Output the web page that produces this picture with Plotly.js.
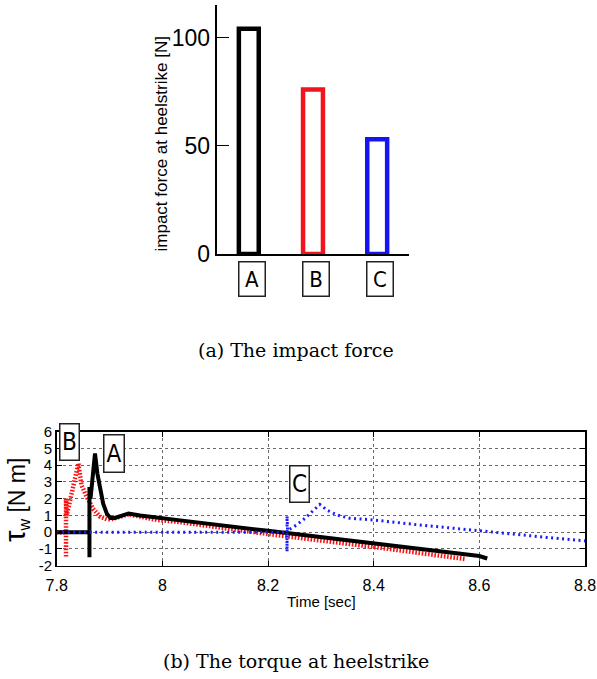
<!DOCTYPE html>
<html>
<head>
<meta charset="utf-8">
<script src="https://cdn.plot.ly/plotly-3.0.1.min.js"></script>
<style>
  html, body { margin: 0; padding: 0; background: #fff; }
  #chart { width: 597px; height: 679px; }
</style>
</head>
<body>
<div id="chart"></div>
<script>
// (a) impact force at heelstrike for the three controllers
const categories = ['A', 'B', 'C'];
const impactForce = [104, 76, 53];
const barColors = ['#000000', '#f0141e', '#1414f5'];
const forceTicks = [0, 50, 100];

// (b) wrist torque around heelstrike, controller A (solid black)
const timeA = [7.8, 7.862, 7.862, 7.862, 7.864, 7.866, 7.8725, 7.877, 7.882, 7.888, 7.895, 7.902, 7.91, 7.92, 7.936, 7.958, 7.99, 8.03, 8.2, 8.4, 8.6, 8.615];
const torqueA = [0, 0, -1.5, 2.7, 2.0, 2.6, 4.7, 3.5, 2.7, 1.7, 1.1, 0.85, 0.85, 0.97, 1.12, 1.0, 0.85, 0.72, 0.08, -0.67, -1.42, -1.57];

// controller B (red dotted)
const timeB = [7.8, 7.8176, 7.8176, 7.8176, 7.819, 7.841, 7.847, 7.857, 7.869, 7.882, 7.895, 7.903, 7.92, 7.936, 7.958, 7.99, 8.027, 8.2, 8.4, 8.573];
const torqueB = [0, 0, -1.5, 2.0, 1.0, 4.1, 2.8, 2.1, 1.4, 0.93, 0.77, 0.77, 0.93, 1.07, 0.93, 0.73, 0.63, -0.11, -0.88, -1.6];

// controller C (blue dotted)
const timeC = [7.8, 8.236, 8.236, 8.236, 8.237, 8.254, 8.27, 8.283, 8.298, 8.311, 8.33, 8.355, 8.4, 8.475, 8.538, 8.601, 8.664, 8.727, 8.8];
const torqueC = [0, 0, -1.16, 0.97, 0.1, 0.43, 0.83, 1.22, 1.66, 1.33, 1.03, 0.83, 0.73, 0.47, 0.29, 0.09, -0.11, -0.31, -0.52];

const torqueTickVals = [-2, -1, 0, 1, 2, 3, 4, 5, 6];
const torqueTickText = ['-2', '-1', '0', '1', '2', '3', '4', '5', '6'];
const timeTickVals = [7.8, 8, 8.2, 8.4, 8.6, 8.8];
const timeTickText = ['7.8', '8', '8.2', '8.4', '8.6', '8.8'];

const sans = 'Liberation Sans, Arial, Helvetica, sans-serif';
const narrow = 'Liberation Sans Narrow, DejaVu Sans Condensed, Arial Narrow, Liberation Sans, sans-serif';
const serif = 'DejaVu Serif, Liberation Serif, serif';

const traces = [
  {
    type: 'bar', x: categories, y: impactForce, xaxis: 'x', yaxis: 'y',
    width: 0.31,
    marker: { color: '#ffffff', line: { color: barColors, width: 4.5 } },
    hoverinfo: 'x+y', showlegend: false
  },
  {
    type: 'scatter', mode: 'lines', x: timeB, y: torqueB, xaxis: 'x2', yaxis: 'y2',
    line: { color: '#ff1010', width: 4.5, dash: '1.6px,1.6px' }, showlegend: false
  },
  {
    type: 'scatter', mode: 'lines', x: timeA, y: torqueA, xaxis: 'x2', yaxis: 'y2',
    line: { color: '#000000', width: 4 }, showlegend: false
  },
  {
    type: 'scatter', mode: 'lines', x: timeC, y: torqueC, xaxis: 'x2', yaxis: 'y2',
    line: { color: '#1a1aff', width: 3, dash: '2px,3.5px' }, showlegend: false
  }
];

function boxLabel(text, x, y, xref, yref, extra) {
  return Object.assign({
    text: text, x: x, y: y, xref: xref, yref: yref,
    showarrow: false, xanchor: 'center', yanchor: 'middle',
    font: { family: narrow, size: 22, color: '#000' },
    bgcolor: '#ffffff', bordercolor: '#222', borderwidth: 1.5, borderpad: 1
  }, extra || {});
}

const curveFont = { family: narrow, size: 24, color: '#000' };

const annotations = [
  // category boxes under the bars
  boxLabel('A', 'A', 0.5888, 'x', 'paper', { xshift: 3, width: 23, height: 31 }),
  boxLabel('B', 'B', 0.5888, 'x', 'paper', { xshift: 3, width: 23, height: 31 }),
  boxLabel('C', 'C', 0.5888, 'x', 'paper', { xshift: 3, width: 23, height: 31 }),
  // curve labels in the torque plot
  boxLabel('B', 7.824, 5.40, 'x2', 'y2', { width: 16, height: 33, font: curveFont }),
  boxLabel('A', 7.908, 4.68, 'x2', 'y2', { width: 17, height: 34, font: curveFont }),
  boxLabel('C', 8.2605, 2.87, 'x2', 'y2', { width: 16, height: 33, font: curveFont }),
  // axis titles
  {
    text: 'impact force at heelstrike [N]', xref: 'paper', yref: 'paper',
    x: 160.5 / 597, y: 1 - 144 / 679, textangle: -90, showarrow: false,
    xanchor: 'center', yanchor: 'middle', font: { family: sans, size: 17, color: '#000' }
  },
  {
    text: '<span style="font-size:29px">\u03c4</span><sub>w</sub> [N m]', xref: 'paper', yref: 'paper',
    x: 16 / 597, y: 1 - 500 / 679, textangle: -90, showarrow: false,
    xanchor: 'center', yanchor: 'middle', font: { family: sans, size: 23, color: '#000' }
  },
  {
    text: 'Time [sec]', xref: 'paper', yref: 'paper',
    x: 321 / 597, y: 1 - 601 / 679, showarrow: false,
    xanchor: 'center', yanchor: 'middle', font: { family: sans, size: 15, color: '#000' }
  },
  // sub-figure captions
  {
    text: '(a) The impact force', xref: 'paper', yref: 'paper',
    x: 296 / 597, y: 1 - 350 / 679, showarrow: false,
    xanchor: 'center', yanchor: 'middle', font: { family: serif, size: 19, color: '#000' }
  },
  {
    text: '(b) The torque at heelstrike', xref: 'paper', yref: 'paper',
    x: 296 / 597, y: 1 - 661 / 679, showarrow: false,
    xanchor: 'center', yanchor: 'middle', font: { family: serif, size: 19, color: '#000' }
  }
];

const layout = {
  width: 597, height: 679,
  margin: { l: 0, r: 0, t: 0, b: 0, pad: 0 },
  paper_bgcolor: '#ffffff', plot_bgcolor: '#ffffff',
  showlegend: false,
  font: { family: sans, color: '#000' },
  xaxis: {
    domain: [216.7 / 597, 409.3 / 597], anchor: 'y', type: 'category',
    range: [-0.5, 2.5], showticklabels: false, ticks: '',
    showline: true, linecolor: '#000', linewidth: 2, showgrid: false, zeroline: false
  },
  yaxis: {
    domain: [1 - 254 / 679, 1 - 5 / 679], anchor: 'x', range: [0, 115],
    tickvals: forceTicks, ticks: 'inside', ticklen: 12, tickwidth: 1.5, tickcolor: '#000',
    tickfont: { family: sans, size: 23, color: '#000' },
    showline: true, linecolor: '#000', linewidth: 2, showgrid: false, zeroline: false
  },
  xaxis2: {
    domain: [56.7 / 597, 585 / 597], anchor: 'y2', range: [7.8, 8.8],
    tickvals: timeTickVals, ticktext: timeTickText,
    ticks: 'inside', ticklen: 5, tickwidth: 1, tickcolor: '#000', mirror: 'ticks',
    tickfont: { family: sans, size: 16, color: '#000' }, ticklabelstandoff: 5,
    showline: true, linecolor: '#000', linewidth: 1.5,
    showgrid: true, gridcolor: '#6a6a6a', gridwidth: 1, griddash: 'dot', zeroline: false
  },
  yaxis2: {
    domain: [1 - 565.7 / 679, 1 - 431.7 / 679], anchor: 'x2', range: [-2, 6],
    tickvals: torqueTickVals, ticktext: torqueTickText,
    ticks: 'inside', ticklen: 5, tickwidth: 1, tickcolor: '#000', mirror: 'ticks',
    tickfont: { family: sans, size: 15, color: '#000' },
    showline: true, linecolor: '#000', linewidth: 1.5,
    showgrid: true, gridcolor: '#6a6a6a', gridwidth: 1, griddash: 'dot', zeroline: false
  },
  annotations: annotations
};

Plotly.newPlot('chart', traces, layout, { staticPlot: true, displayModeBar: false });
</script>
</body>
</html>
